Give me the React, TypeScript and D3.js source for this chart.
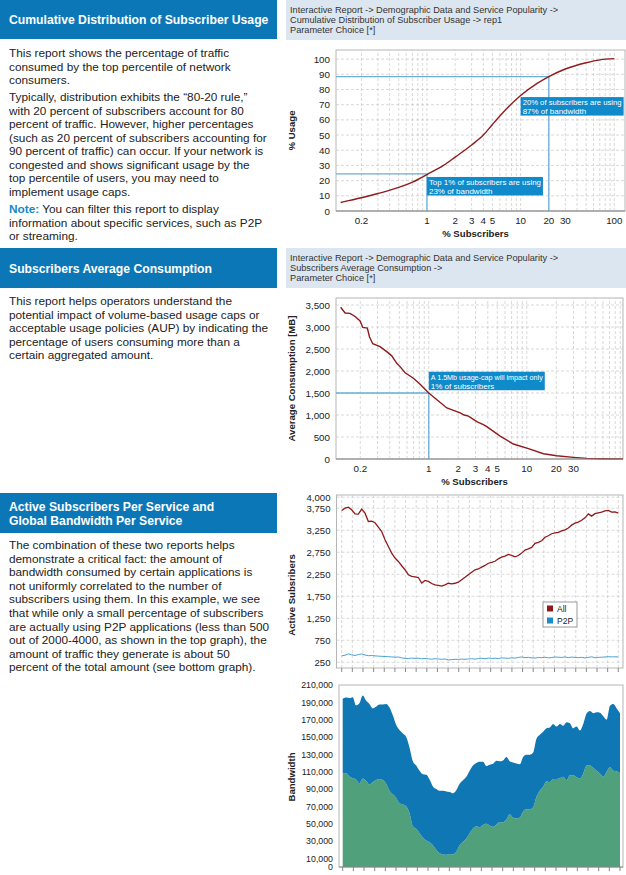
import { useEffect, useRef } from "react";
import * as d3 from "d3";

const W = 626;
const H = 875;
const FONT = "'Liberation Sans', Arial, Helvetica, sans-serif";
const HEADER_BLUE = "#0b77b6";
const CRUMB_BG = "#dce6f0";
const NOTE_BLUE = "#0f8acb";
const CURVE_RED = "#8f1a1c";
const REF_BLUE = "#6aaed8";
const GRID = "#c8c8c8";
const FRAME = "#b5b5b5";
const TEXT = "#222";

// ---- left column copy ----
const section1Title = ["Cumulative Distribution of Subscriber Usage"];
const section1Lines = [
  "This report shows the percentage of traffic",
  "consumed by the top percentile of network",
  "consumers.",
  "Typically, distribution exhibits the \u201c80-20 rule,\u201d",
  "with 20 percent of subscribers account for 80",
  "percent of traffic. However, higher percentages",
  "(such as 20 percent of subscribers accounting for",
  "90 percent of traffic) can occur. If your network is",
  "congested and shows significant usage by the",
  "top percentile of users, you may need to",
  "implement usage caps.",
];
const section1Note = [
  " You can filter this report to display",
  "information about specific services, such as P2P",
  "or streaming.",
];
const section2Title = ["Subscribers Average Consumption"];
const section2Lines = [
  "This report helps operators understand the",
  "potential impact of volume-based usage caps or",
  "acceptable usage policies (AUP) by indicating the",
  "percentage of users consuming more than a",
  "certain aggregated amount.",
];
const section3Title = ["Active Subscribers Per Service and", "Global Bandwidth Per Service"];
const section3Lines = [
  "The combination of these two reports helps",
  "demonstrate a critical fact: the amount of",
  "bandwidth consumed by certain applications is",
  "not uniformly correlated to the number of",
  "subscribers using them. In this example, we see",
  "that while only a small percentage of subscribers",
  "are actually using P2P applications (less than 500",
  "out of 2000-4000, as shown in the top graph), the",
  "amount of traffic they generate is about 50",
  "percent of the total amount (see bottom graph).",
];

const crumb1 = [
  "Interactive Report -> Demographic Data and Service Popularity ->",
  "Cumulative Distribution of Subscriber Usage -> rep1",
  "Parameter Choice [*]",
];
const crumb2 = [
  "Interactive Report -> Demographic Data and Service Popularity ->",
  "Subscribers Average Consumption ->",
  "Parameter Choice [*]",
];

// ---- chart 1: cumulative distribution ----
const cdfSubscribers = [0.12, 0.15, 0.2, 0.3, 0.5, 0.7, 1, 1.5, 2, 3, 4, 5, 7, 10, 15, 20, 30, 50, 70, 100];
const cdfUsage = [5.6, 7, 8.7, 11.5, 15.5, 19, 24, 30, 35.5, 43.5, 50, 57, 67, 76, 84, 88.5, 93.5, 97.6, 99.5, 100.3];
const cdfTicksX = [0.2, 1, 2, 3, 4, 5, 10, 20, 30, 100];
const cdfTicksY = [0, 10, 20, 30, 40, 50, 60, 70, 80, 90, 100];
const cdfRefs: [number, number][] = [
  [20, 88.5],
  [1, 24.5],
];
const cdfNotes = [
  { x: 10, y: 75, lines: ["20% of subscribers are using", "87% of bandwidth"], w: 103 },
  { x: 1, y: 22.4, lines: ["Top 1% of subscribers are using", "23% of bandwidth"], w: 116 },
];

// ---- chart 2: average consumption ----
const avgSubscribers = [
  0.126, 0.14, 0.157, 0.177, 0.199, 0.212, 0.236, 0.248, 0.268, 0.318, 0.372, 0.419, 0.471, 0.509,
  0.573, 0.697, 0.815, 1, 1.21, 1.53, 2.09, 2.3, 2.54, 3.09, 3.6, 3.91, 5.35, 7.3, 10.4, 14.8, 20.2,
  29.9, 40.9, 60, 96,
];
const avgConsumption = [
  3450, 3320, 3310, 3240, 3140, 2990, 2975, 2780, 2620, 2555, 2440, 2345, 2175, 2100, 1960, 1835,
  1700, 1500, 1345, 1160, 1050, 1000, 975, 850, 780, 735, 520, 340, 235, 120, 75, 38, 15, 5, 2,
];
const avgTicksX = [0.2, 1, 2, 3, 4, 5, 10, 20, 30];
const avgTicksY = [0, 500, 1000, 1500, 2000, 2500, 3000, 3500];
const avgRefs: [number, number][] = [[1, 1500]];
const avgNotes = [{ x: 1, y: 1984, lines: ["A 1.5Mb usage-cap will impact only", "1% of subscribers"], w: 116 }];

// ---- chart 3: active subscribers per service ----
const activeAll = [
  3698, 3750, 3773, 3713, 3620, 3615, 3728, 3637, 3448, 3455, 3420, 3320, 3221, 3032, 2881, 2730,
  2617, 2541, 2443, 2352, 2239, 2201, 2190, 2175, 2050, 2110, 2087, 2040, 2010, 1995, 1980, 2010,
  2045, 2030, 2045, 2070, 2125, 2180, 2240, 2295, 2350, 2370, 2410, 2450, 2500, 2520, 2545, 2600,
  2640, 2660, 2700, 2680, 2645, 2675, 2730, 2800, 2825, 2860, 2950, 2975, 3010, 3090, 3125, 3170,
  3190, 3200, 3235, 3260, 3300, 3365, 3410, 3435, 3475, 3530, 3620, 3570, 3625, 3645, 3660, 3690,
  3700, 3660, 3665, 3640,
];
const activeP2P = [
  395, 410, 440, 420, 405, 425, 440, 415, 400, 405, 395, 390, 385, 380, 378, 372, 365, 370, 350, 340,
  335, 345, 338, 342, 330, 335, 328, 322, 330, 325, 318, 325, 305, 310, 318, 315, 322, 318, 325, 330,
  322, 335, 340, 330, 345, 338, 342, 335, 350, 345, 340, 352, 345, 360, 370, 355, 362, 350, 345, 360,
  355, 365, 350, 358, 370, 365, 360, 372, 355, 368, 360, 355, 362, 348, 360, 375, 352, 360, 365, 370,
  378, 372, 375, 370,
];
const activeTicksY = [250, 750, 1250, 1750, 2250, 2750, 3250, 3750, 4000];
const activeLegend = ["All", "P2P"];

// ---- chart 4: bandwidth per service (thousands) ----
const bwOther = [
  108, 108.5, 104.5, 102.5, 101, 96.5, 102, 99.5, 95, 98, 100.5, 101.5, 100.5, 96, 88, 84, 80, 73.5,
  72, 70, 62, 47, 44, 39, 34, 30.5, 28.5, 25, 20, 16, 14.5, 14, 15, 14.5, 17.5, 25, 29, 33, 39, 44.5,
  47, 46, 48.5, 50, 48, 46.5, 49, 52, 51.5, 55, 61, 57, 56, 57, 64, 66.5, 66.5, 69, 81, 88, 92.5, 99,
  98, 101.5, 101.5, 102.5, 104, 100, 106, 106, 103.5, 102, 108, 117, 117, 114.5, 111, 108, 104, 110,
  115, 111, 110.5, 108,
];
const bwP2P = [
  86, 87, 90.5, 93.5, 85.5, 92.5, 96, 92.5, 93, 85, 84.5, 86, 87, 92, 96, 91, 84, 84.5, 82, 80, 76,
  75, 73, 72, 73, 76, 72.5, 68, 70, 72, 73.5, 73, 71.5, 70.5, 71, 71, 71, 71, 72, 72.5, 73, 75.5, 73,
  66.5, 70, 72.5, 73.5, 70, 71.5, 72, 61, 63.5, 63.5, 61.5, 63, 63, 63, 63, 67, 64.5, 63.5, 61, 63,
  63.5, 60.5, 62.5, 59, 67, 60, 54, 58.5, 55.5, 57, 60, 63, 63, 67.5, 70, 70, 60, 71, 77, 72.5, 69.5,
];
const bwTicksY = [0, 10, 30, 50, 70, 90, 110, 130, 150, 170, 190, 210];

type Sel = d3.Selection<SVGGElement, unknown, null, undefined>;

function textBlock(g: Sel, x: number, y0: number, step: number, lines: string[], opts: any = {}) {
  lines.forEach((ln, i) => {
    const t = g
      .append("text")
      .attr("x", x)
      .attr("y", y0 + i * step)
      .attr("font-size", opts.size ?? 11.8)
      .attr("font-weight", opts.weight ?? "normal")
      .attr("fill", opts.fill ?? TEXT)
      .text(ln);
    if (opts.maxWidth) {
      const len = (t.node() as SVGTextElement).getComputedTextLength();
      if (len > opts.maxWidth) t.attr("textLength", opts.maxWidth).attr("lengthAdjust", "spacingAndGlyphs");
    }
  });
}

function header(g: Sel, y: number, h: number, lines: string[]) {
  g.append("rect").attr("x", 0).attr("y", y).attr("width", 277).attr("height", h).attr("fill", HEADER_BLUE);
  const first = y + h / 2 + 4.5 - ((lines.length - 1) * 14) / 2;
  textBlock(g, 9, first, 14, lines, { size: 12.2, weight: "bold", fill: "#fff" });
}

function crumb(g: Sel, y: number, lines: string[]) {
  g.append("rect").attr("x", 286).attr("y", y).attr("width", 340).attr("height", 40).attr("fill", CRUMB_BG);
  textBlock(g, 290, y + 13, 10.2, lines, { size: 9.2, fill: "#333" });
}

function dashedGrid(g: Sel, xs: number[], ys: number[], x: any, y: any) {
  const [c0, c1] = x.range();
  const [r0, r1] = y.range();
  g.selectAll(null)
    .data(xs)
    .join("line")
    .attr("x1", (d) => x(d))
    .attr("x2", (d) => x(d))
    .attr("y1", r0)
    .attr("y2", r1)
    .attr("stroke", GRID)
    .attr("stroke-width", 0.7)
    .attr("stroke-dasharray", "3 2");
  g.selectAll(null)
    .data(ys)
    .join("line")
    .attr("x1", c0)
    .attr("x2", c1)
    .attr("y1", (d) => y(d))
    .attr("y2", (d) => y(d))
    .attr("stroke", GRID)
    .attr("stroke-width", 0.7)
    .attr("stroke-dasharray", "3 2");
}

function logMinor(x: d3.ScaleLogarithmic<number, number>) {
  const [d0, d1] = x.domain();
  const minor: number[] = [];
  for (let p = Math.floor(Math.log10(d0)); p <= Math.ceil(Math.log10(d1)); p++) {
    for (let k = 1; k <= 9; k++) {
      const v = k * Math.pow(10, p);
      if (v > d0 && v < d1) minor.push(v);
    }
  }
  return minor;
}

function yTitle(g: Sel, cx: number, cy: number, label: string) {
  g.append("text")
    .attr("transform", `translate(${cx},${cy}) rotate(-90)`)
    .attr("text-anchor", "middle")
    .attr("font-size", 9.6)
    .attr("font-weight", "bold")
    .attr("fill", TEXT)
    .text(label);
}

function frame(g: Sel, box: { left: number; right: number; top: number; bottom: number }) {
  g.append("rect")
    .attr("x", box.left)
    .attr("y", box.top)
    .attr("width", box.right - box.left)
    .attr("height", box.bottom - box.top)
    .attr("fill", "#fff")
    .attr("stroke", FRAME);
}

function notes(g: Sel, x: any, y: any, list: { x: number; y: number; lines: string[]; w: number }[]) {
  list.forEach((n) => {
    const bx = x(n.x);
    const by = y(n.y);
    g.append("rect").attr("x", bx).attr("y", by).attr("width", n.w).attr("height", 18.5).attr("fill", NOTE_BLUE);
    textBlock(g, bx + 2, by + 8, 9, n.lines, { size: 8, fill: "#fff", maxWidth: n.w - 4 });
  });
}

function logChart(
  g: Sel,
  box: { left: number; right: number; top: number; bottom: number },
  xDomain: [number, number],
  yDomain: [number, number],
  xs: number[],
  ys: number[],
  xTicks: number[],
  yTicks: number[],
  yFmt: (v: number) => string,
  refs: [number, number][],
  curve: d3.CurveFactory,
  yLabel: string,
  noteList: any[]
) {
  const x = d3.scaleLog().domain(xDomain).range([box.left, box.right]);
  const y = d3.scaleLinear().domain(yDomain).range([box.bottom, box.top]);
  frame(g, box);
  dashedGrid(g, logMinor(x), yTicks, x, y);

  // reference cross-hairs
  refs.forEach(([rx, ry]) => {
    g.append("path")
      .attr("d", `M${box.left},${y(ry)}H${x(rx)}V${box.bottom}`)
      .attr("fill", "none")
      .attr("stroke", REF_BLUE)
      .attr("stroke-width", 1.3);
  });

  const line = d3
    .line<number>()
    .x((_, i) => x(xs[i]))
    .y((d) => y(d))
    .curve(curve);
  g.append("path").attr("d", line(ys)).attr("fill", "none").attr("stroke", CURVE_RED).attr("stroke-width", 1.4);

  notes(g, x, y, noteList);

  g.append("line")
    .attr("x1", box.left)
    .attr("x2", box.right)
    .attr("y1", box.bottom)
    .attr("y2", box.bottom)
    .attr("stroke", "#888");
  g.selectAll(null)
    .data(xTicks)
    .join("text")
    .attr("x", (d) => x(d))
    .attr("y", box.bottom + 12.5)
    .attr("text-anchor", "middle")
    .attr("font-size", 9.8)
    .attr("fill", TEXT)
    .text((d) => String(d));
  g.selectAll(null)
    .data(yTicks)
    .join("text")
    .attr("x", box.left - 6)
    .attr("y", (d) => y(d) + 3.5)
    .attr("text-anchor", "end")
    .attr("font-size", 9.8)
    .attr("fill", TEXT)
    .text((d) => yFmt(d));
  g.append("text")
    .attr("x", (box.left + box.right) / 2 - 5)
    .attr("y", box.bottom + 25.5)
    .attr("text-anchor", "middle")
    .attr("font-size", 9.6)
    .attr("font-weight", "bold")
    .attr("fill", TEXT)
    .text("% Subscribers");
  yTitle(g, 295, (box.top + box.bottom) / 2, yLabel);
}

function indexTicks(n: number, parts: number) {
  return d3.range(parts + 1).map((k) => (k * (n - 1)) / parts);
}

export default function App() {
  const ref = useRef<SVGSVGElement | null>(null);

  useEffect(() => {
    const svg = d3.select(ref.current);
    svg.selectAll("*").remove();
    const g = svg.append("g") as unknown as Sel;
    const comma = d3.format(",");

    // left column
    header(g, 0, 39, section1Title);
    textBlock(g, 9, 57, 13.5, section1Lines.slice(0, 3));
    textBlock(g, 9, 101, 13.5, section1Lines.slice(3));
    const note = g.append("text").attr("x", 9).attr("y", 213).attr("font-size", 11.8).attr("fill", TEXT);
    note.append("tspan").attr("fill", NOTE_BLUE).attr("font-weight", "bold").text("Note:");
    note.append("tspan").text(section1Note[0]);
    textBlock(g, 9, 226.5, 13.5, section1Note.slice(1));

    header(g, 248, 40, section2Title);
    textBlock(g, 9, 305, 13.5, section2Lines);

    header(g, 493, 40, section3Title);
    textBlock(g, 9, 549, 13.6, section3Lines);

    // breadcrumbs
    crumb(g, 0, crumb1);
    crumb(g, 248, crumb2);

    // chart 1
    logChart(
      g,
      { left: 336, right: 625, top: 50, bottom: 211 },
      [0.107, 130],
      [0, 106],
      cdfSubscribers,
      cdfUsage,
      cdfTicksX,
      cdfTicksY,
      (v) => String(v),
      cdfRefs,
      d3.curveMonotoneX,
      "% Usage",
      cdfNotes
    );

    // chart 2
    logChart(
      g,
      { left: 336, right: 623, top: 298, bottom: 459 },
      [0.113, 96],
      [0, 3660],
      avgSubscribers,
      avgConsumption,
      avgTicksX,
      avgTicksY,
      (v) => comma(v),
      avgRefs,
      d3.curveLinear,
      "Average Consumption [MB]",
      avgNotes
    );

    // chart 3: active subscribers
    {
      const box = { left: 336.5, right: 623, top: 495, bottom: 668 };
      const n = activeAll.length;
      const x = d3.scaleLinear().domain([0, n - 1]).range([341.7, 618.3]);
      const y = d3.scaleLinear().domain([120, 4050]).range([box.bottom, box.top]);
      const xt = indexTicks(n, 26);
      frame(g, box);
      const xg = d3.scaleLinear().domain(x.domain()).range(x.range());
      const yg = d3.scaleLinear().domain(y.domain()).range(y.range());
      // grid spans the full frame
      xg.range([341.7, 618.3]);
      dashedGrid(g, xt, [], xg, yg);
      g.selectAll(null)
        .data(activeTicksY)
        .join("line")
        .attr("x1", box.left)
        .attr("x2", box.right)
        .attr("y1", (d) => y(d))
        .attr("y2", (d) => y(d))
        .attr("stroke", GRID)
        .attr("stroke-width", 0.7)
        .attr("stroke-dasharray", "3 2");
      g.selectAll(null)
        .data(xt)
        .join("line")
        .attr("x1", (d) => x(d))
        .attr("x2", (d) => x(d))
        .attr("y1", box.bottom)
        .attr("y2", box.bottom + 4)
        .attr("stroke", "#888");
      const line = d3
        .line<number>()
        .x((_, i) => x(i))
        .y((d) => y(d));
      g.append("path").attr("d", line(activeP2P)).attr("fill", "none").attr("stroke", "#4aa3d6").attr("stroke-width", 1);
      g.append("path").attr("d", line(activeAll)).attr("fill", "none").attr("stroke", CURVE_RED).attr("stroke-width", 1.3);
      g.selectAll(null)
        .data(activeTicksY)
        .join("text")
        .attr("x", box.left - 6)
        .attr("y", (d) => y(d) + 3.5)
        .attr("text-anchor", "end")
        .attr("font-size", 9.6)
        .attr("fill", TEXT)
        .text((d) => comma(d));
      yTitle(g, 295, 595, "Active Subsribers");

      // legend
      const colors = [CURVE_RED, "#1a8cc8"];
      g.append("rect").attr("x", 543).attr("y", 602).attr("width", 34).attr("height", 25).attr("fill", "#fff").attr("stroke", "#999");
      activeLegend.forEach((name, i) => {
        g.append("rect").attr("x", 547).attr("y", 605.5 + i * 12).attr("width", 6).attr("height", 6).attr("fill", colors[i]);
        g.append("text").attr("x", 557).attr("y", 611.5 + i * 12).attr("font-size", 8.5).attr("fill", TEXT).text(name);
      });
    }

    // chart 4: bandwidth stacked area
    {
      const box = { left: 339, right: 623, top: 685, bottom: 867 };
      const n = bwOther.length;
      const x = d3.scaleLinear().domain([0, n - 1]).range([342.7, 620]);
      const y = d3.scaleLinear().domain([0, 210]).range([box.bottom, box.top]);
      const rows = bwOther.map((o, i) => ({ other: o, p2p: bwP2P[i] }));
      const stacked = d3.stack<any>().keys(["other", "p2p"])(rows);
      const area = d3
        .area<any>()
        .x((_, i) => x(i))
        .y0((d) => y(d[0]))
        .y1((d) => y(d[1]))
        .curve(d3.curveMonotoneX);
      frame(g, box);
      const fills = ["#50a07c", "#0f77b4"];
      stacked.forEach((s, k) => {
        g.append("path").attr("d", area(s)).attr("fill", fills[k]);
      });
      const xt = indexTicks(n, 26);
      g.selectAll(null)
        .data(xt)
        .join("line")
        .attr("x1", (d) => x(d))
        .attr("x2", (d) => x(d))
        .attr("y1", box.bottom)
        .attr("y2", box.bottom + 4)
        .attr("stroke", "#888");
      g.append("line")
        .attr("x1", box.left)
        .attr("x2", box.right)
        .attr("y1", box.bottom)
        .attr("y2", box.bottom)
        .attr("stroke", "#888");
      g.selectAll(null)
        .data(bwTicksY)
        .join("text")
        .attr("x", box.left - 6)
        .attr("y", (d) => y(d) + 3.2)
        .attr("text-anchor", "end")
        .attr("font-size", 8.8)
        .attr("fill", TEXT)
        .text((d) => comma(d * 1000));
      yTitle(g, 295, 777, "Bandwidth");
    }
  }, []);

  return (
    <svg
      ref={ref}
      width={W}
      height={H}
      viewBox={`0 0 ${W} ${H}`}
      style={{ position: "absolute", left: 0, top: 0, fontFamily: FONT, background: "#fff" }}
    />
  );
}
